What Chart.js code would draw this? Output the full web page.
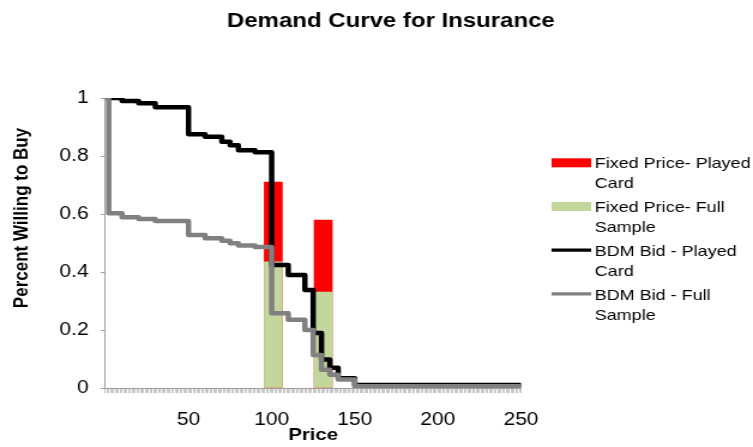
<!DOCTYPE html>
<html>
<head>
<meta charset="utf-8">
<title>Demand Curve for Insurance</title>
<script src="https://cdn.jsdelivr.net/npm/chart.js@4.4.1/dist/chart.umd.min.js"></script>
<style>
  html, body { margin: 0; padding: 0; background: #fff; }
  canvas { display: block; }
</style>
</head>
<body>
<!-- drawn on a 628px-wide canvas and shown 753px wide (horizontally widened look) -->
<canvas id="c" width="628" height="447" style="width:753px;height:447px"></canvas>
<script>
// Fixed-price offers: price of the offer and share who bought
const fixedPrices = [101, 131];
const fixedPlayedCard = [0.71, 0.579];
const fixedFullSample = [0.435, 0.331];

// BDM bids: step points (price where the share changes, share from that price on)
const bdmPlayedPrice = [1, 10, 20, 30, 50, 60, 70, 75, 80, 90, 100, 110, 120, 125, 130, 135, 140, 150, 250];
const bdmPlayedShare = [1.0, 0.99, 0.982, 0.968, 0.875, 0.866, 0.849, 0.837, 0.82, 0.813, 0.424, 0.39, 0.338, 0.19, 0.098, 0.07, 0.034, 0.01, 0.01];

const bdmFullPrice = [1, 2, 10, 20, 30, 50, 60, 70, 75, 80, 90, 100, 110, 120, 125, 130, 135, 140, 150, 250];
const bdmFullShare = [1.0, 0.603, 0.589, 0.583, 0.576, 0.528, 0.516, 0.508, 0.499, 0.491, 0.486, 0.258, 0.235, 0.2, 0.114, 0.063, 0.046, 0.029, 0.006, 0.006];

// Series names, split the way the legend shows them
const seriesNames = [
  ['Fixed Price- Played', 'Card'],
  ['Fixed Price- Full', 'Sample'],
  ['BDM Bid - Played', 'Card'],
  ['BDM Bid - Full', 'Sample']
];

const xTickLabels = [50, 100, 150, 200, 250];
const yTickValues = [0, 0.2, 0.4, 0.6, 0.8, 1];

const chartTitle = 'Demand Curve for Insurance';
const xAxisTitle = 'Price';
const yAxisTitle = 'Percent Willing to Buy';

const FONT = "'Liberation Sans', Arial, Helvetica, sans-serif";
Chart.defaults.font.family = FONT;
Chart.defaults.color = '#000';

const toPoints = (xs, ys) => xs.map((x, i) => ({ x: x, y: ys[i] }));

// Title, rotated y-axis title and the two-line legend on the right
const textPlugin = {
  id: 'chartTexts',
  afterDraw(chart) {
    const ctx = chart.ctx;
    ctx.save();
    ctx.fillStyle = '#000';
    ctx.textAlign = 'center';
    ctx.textBaseline = 'middle';
    ctx.font = 'bold 20px ' + FONT;
    ctx.fillText(chartTitle, 326, 21);

    ctx.save();
    ctx.translate(18.8, 218);
    ctx.rotate(-Math.PI / 2);
    ctx.font = 'bold 17px ' + FONT;
    ctx.fillText(yAxisTitle, 0, 0);
    ctx.restore();

    ctx.textAlign = 'left';
    ctx.font = '15px ' + FONT;
    const x0 = 460, swatchW = 33;
    chart.data.datasets.forEach((ds, i) => {
      const y = 162.8 + i * 43.7;
      if (ds.type === 'line') {
        ctx.strokeStyle = ds.borderColor;
        ctx.lineWidth = 3.3;
        ctx.beginPath();
        ctx.moveTo(x0, y);
        ctx.lineTo(x0 + swatchW, y);
        ctx.stroke();
      } else {
        ctx.fillStyle = ds.backgroundColor;
        ctx.fillRect(x0, y - 4.5, swatchW, 9);
      }
      ctx.fillStyle = '#000';
      seriesNames[i].forEach((line, j) => ctx.fillText(line, 496, y + 1.5 + j * 20));
    });
    ctx.restore();
  }
};

new Chart(document.getElementById('c'), {
  type: 'bar',
  data: {
    datasets: [
      {
        type: 'bar',
        label: seriesNames[0].join(' '),
        data: toPoints(fixedPrices, fixedPlayedCard),
        backgroundColor: '#FF0000',
        barThickness: 15,
        grouped: false,
        order: 4
      },
      {
        type: 'bar',
        label: seriesNames[1].join(' '),
        data: toPoints(fixedPrices, fixedFullSample),
        backgroundColor: '#C3D69B',
        barThickness: 15,
        grouped: false,
        order: 3
      },
      {
        type: 'line',
        label: seriesNames[2].join(' '),
        data: toPoints(bdmPlayedPrice, bdmPlayedShare),
        borderColor: '#000000',
        borderWidth: 4.5,
        stepped: true,
        pointRadius: 0,
        fill: false,
        borderCapStyle: 'round',
        borderJoinStyle: 'round',
        order: 2
      },
      {
        type: 'line',
        label: seriesNames[3].join(' '),
        data: toPoints(bdmFullPrice, bdmFullShare),
        borderColor: '#808080',
        borderWidth: 4.5,
        stepped: true,
        pointRadius: 0,
        fill: false,
        borderCapStyle: 'round',
        borderJoinStyle: 'round',
        order: 1
      }
    ]
  },
  options: {
    responsive: false,
    devicePixelRatio: 1,
    animation: false,
    layout: { padding: { top: 98, right: 193.5, bottom: 0, left: 0 } },
    plugins: {
      legend: { display: false },
      title: { display: false },
      tooltip: { enabled: false }
    },
    scales: {
      x: {
        type: 'linear',
        min: 0,
        max: 250,
        offset: false,
        grid: { display: true, drawOnChartArea: false, drawTicks: true, tickLength: 5, color: '#c8c8c8', offset: false },
        border: { display: true, color: '#a0a0a0' },
        ticks: {
          stepSize: 1,
          autoSkip: false,
          maxRotation: 0,
          minRotation: 0,
          padding: 16.5,
          font: { size: 17.5 },
          color: '#000',
          callback: (v) => xTickLabels.includes(v) ? String(v) : ''
        },
        title: {
          display: true,
          text: xAxisTitle,
          color: '#000',
          font: { size: 17, weight: 'bold' },
          padding: { top: 0, bottom: 1 }
        },
        afterFit(scale) { scale.height = 59; }
      },
      y: {
        min: 0,
        max: 1,
        grid: { drawOnChartArea: false, drawTicks: true, tickLength: 4, color: '#a0a0a0' },
        border: { display: true, color: '#a0a0a0' },
        afterBuildTicks(scale) { scale.ticks = yTickValues.map(v => ({ value: v })); },
        ticks: {
          padding: 10,
          font: { size: 17.5 },
          color: '#000',
          callback: (v) => String(v)
        },
        afterFit(scale) { scale.width = 87.9; }
      }
    }
  },
  plugins: [textPlugin]
});
</script>
</body>
</html>
